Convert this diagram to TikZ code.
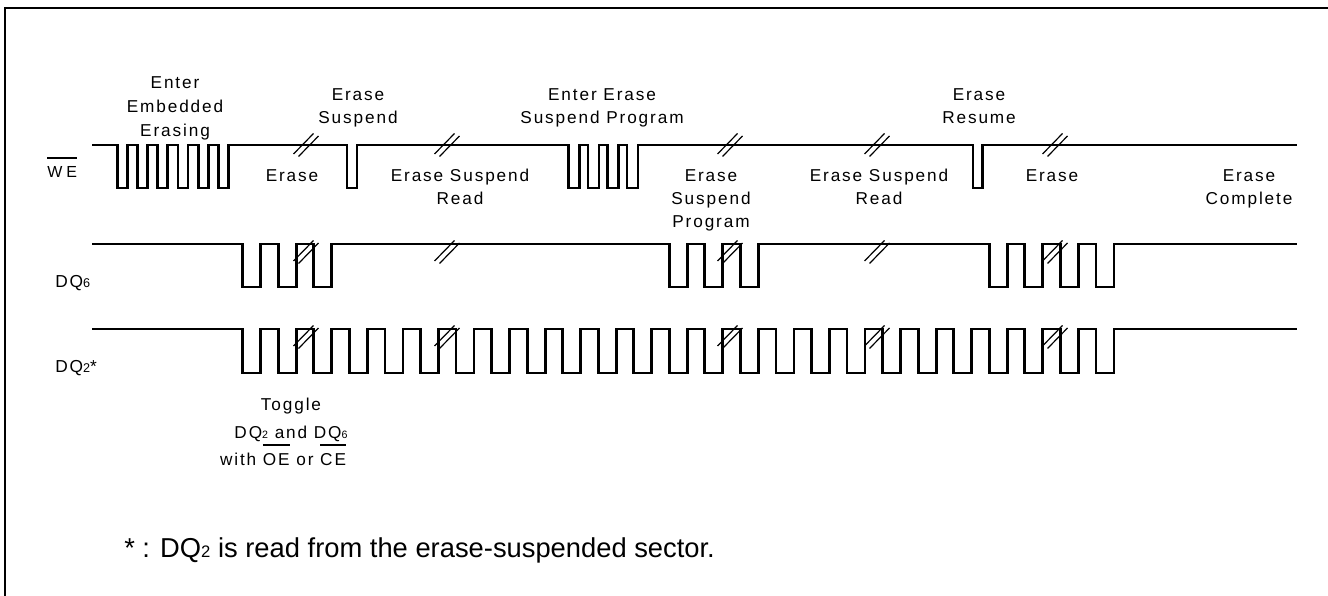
\documentclass[tikz,border=0pt]{standalone}
\usepackage{fontspec}
\setmainfont{Liberation Sans}
\newfontfamily\labfont[LetterSpace=11]{Liberation Sans}
\newfontfamily\wefont[LetterSpace=25]{Liberation Sans}
\newcommand\ovl[1]{\leavevmode\vbox{\hrule height 1.1pt\kern 5.6pt\hbox{#1}}}
\begin{document}
\begin{tikzpicture}[x=0.75pt,y=-0.75pt,
  wave/.style={line width=2.1pt, line join=miter},
  brk/.style={line width=0.9pt},
  lbl/.style={font=\labfont\fontsize{12.9}{18}\selectfont, inner sep=0pt, anchor=base},
  sig/.style={font=\labfont\fontsize{13}{15}\selectfont, inner sep=0pt, anchor=base west},
  frameline/.style={line width=1.1pt}]
\useasboundingbox (0,0) rectangle (1328,596);
% frame
\draw[frameline] (5,596) -- (5,8) -- (1328,8);

% WE waveform
\draw[wave] (92,145)
  foreach \k in {0,...,5} { -- ({117.3+20.2*\k},145) -- ++(0,43) -- ++(10,0) -- ++(0,-43) }
  -- (347,145) -- ++(0,43) -- ++(10,0) -- ++(0,-43)
  foreach \k in {0,...,3} { -- ({568.5+19.5*\k},145) -- ++(0,43) -- ++(11,0) -- ++(0,-43) }
  -- (973,145) -- ++(0,43) -- ++(9.5,0) -- ++(0,-43)
  -- (1297,145);

% DQ6 waveform
\draw[wave] (92,244)
  foreach \k in {0,1,2,12,13,14,21,22,23,24} { -- ({242.7+35.55*\k},244) -- ++(0,43) -- ++(18,0) -- ++(0,-43) }
  -- (1297,244);

% DQ2 waveform
\draw[wave] (92,329)
  foreach \k in {0,...,24} { -- ({242.7+35.55*\k},329) -- ++(0,44) -- ++(18,0) -- ++(0,-44) }
  -- (1297,329);

% break marks
\foreach \cx in {306,447,730,877,1055} {
  \foreach \cy in {145,252,337} {
    \draw[brk] (\cx-12.5,\cy+9) -- (\cx+7.5,\cy-11.5);
    \draw[brk] (\cx-7.5,\cy+11.5) -- (\cx+12.5,\cy-9);
  }
}

% signal names
\node[sig, font=\wefont\fontsize{12}{14}\selectfont] (we) at (47,177) {\ovl{WE}};
\node[sig] (dq6) at (55,287) {DQ{\fontsize{9.5}{10}\selectfont 6}};
\node[sig] (dq2) at (55,372) {DQ{\fontsize{9.5}{10}\selectfont 2}*};

% labels above
\node[lbl] (t1a) at (175,88) {Enter};
\node[lbl] (t1b) at (175,112) {Embedded};
\node[lbl] (t1c) at (175,136) {Erasing};
\node[lbl] (t2a) at (358,100) {Erase};
\node[lbl] (t2b) at (358,123) {Suspend};
\node[lbl] (t3a) at (602,100) {Enter Erase};
\node[lbl] (t3b) at (602,123) {Suspend Program};
\node[lbl] (t4a) at (979,100) {Erase};
\node[lbl] (t4b) at (979,123) {Resume};

% labels below
\node[lbl] (b1) at (292,181) {Erase};
\node[lbl] (b2a) at (460,181) {Erase Suspend};
\node[lbl] (b2b) at (460,204) {Read};
\node[lbl] (b3a) at (711,181) {Erase};
\node[lbl] (b3b) at (711,204) {Suspend};
\node[lbl] (b3c) at (711,227) {Program};
\node[lbl] (b4a) at (879,181) {Erase Suspend};
\node[lbl] (b4b) at (879,204) {Read};
\node[lbl] (b5) at (1052,181) {Erase};
\node[lbl] (b6a) at (1249,181) {Erase};
\node[lbl] (b6b) at (1249,204) {Complete};

% toggle note
\node[lbl] (g1) at (291,410) {Toggle};
\node[lbl] (g2) at (291,438) {DQ{\fontsize{8}{8}\selectfont 2} and DQ{\fontsize{8}{8}\selectfont 6}};
\node[lbl] (g3) at (283,465) {with \ovl{OE} or \ovl{CE}};

% footnote
\node[inner sep=0pt, anchor=base west, font=\fontsize{20.5}{23}\selectfont] (fn) at (124,557)
  {* : DQ{\fontsize{12.5}{13}\selectfont 2} is read from the erase-suspended sector.};
\end{tikzpicture}
\end{document}
